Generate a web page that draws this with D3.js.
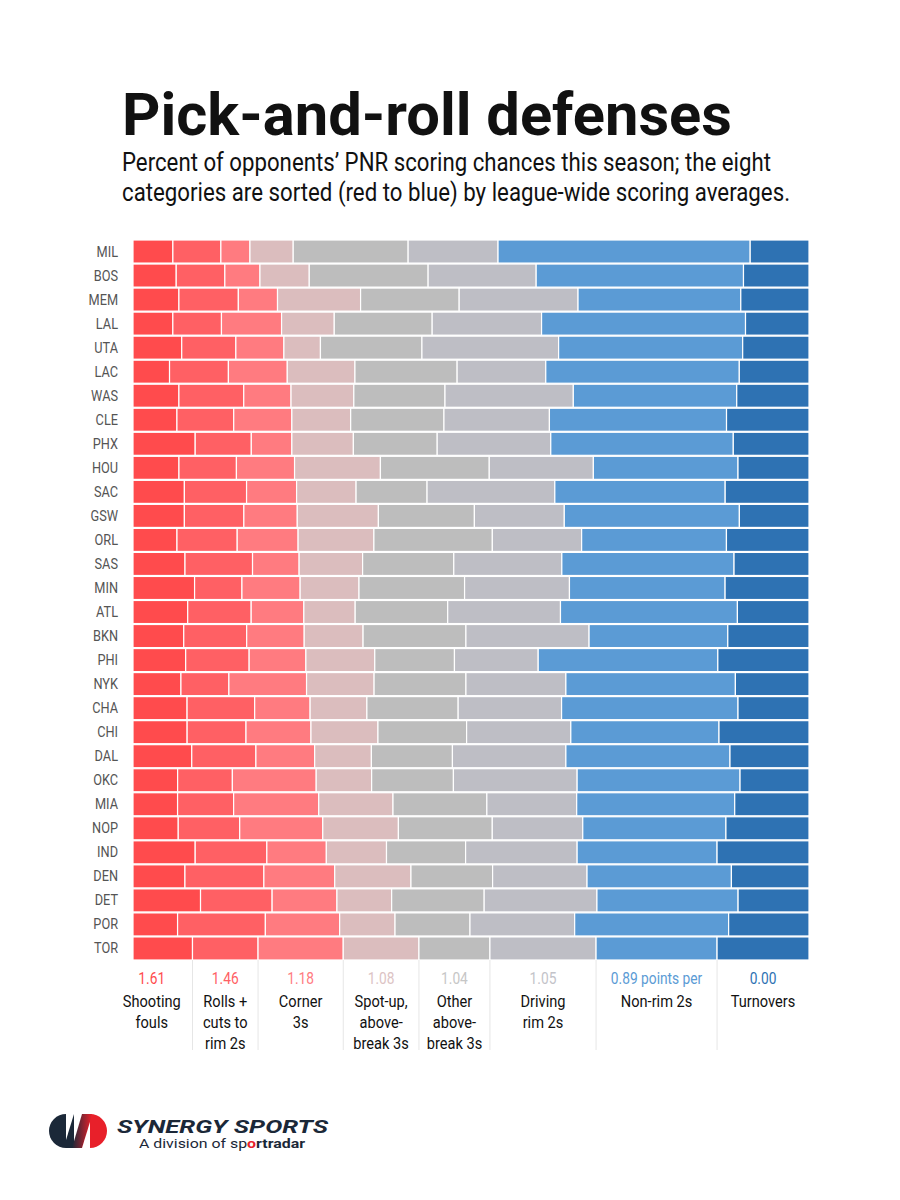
<!DOCTYPE html>
<html><head><meta charset="utf-8">
<script src="https://cdn.jsdelivr.net/npm/d3@7"></script>
<style>html,body{margin:0;padding:0;background:#fff;}svg{display:block;font-family:Roboto,"Noto Sans",sans-serif;}</style>
</head><body>
<svg id="chart" width="900" height="1200"></svg>
<script>
const teams = ["MIL","BOS","MEM","LAL","UTA","LAC","WAS","CLE","PHX","HOU","SAC","GSW","ORL","SAS","MIN","ATL","BKN","PHI","NYK","CHA","CHI","DAL","OKC","MIA","NOP","IND","DEN","DET","POR","TOR"];
const categories = ["shootingFouls","rollsCuts","corner3s","spotUp3s","otherAbove3s","drivingRim2s","nonRim2s","turnovers"];
const categoryLabels = [["Shooting","fouls"],["Rolls +","cuts to","rim 2s"],["Corner","3s"],["Spot-up,","above-","break 3s"],["Other","above-","break 3s"],["Driving","rim 2s"],["Non-rim 2s"],["Turnovers"]];
const avgPoints = ["1.61","1.46","1.18","1.08","1.04","1.05","0.89 points per","0.00"];
const shootingFouls = [5.9,6.4,6.8,5.9,7.2,5.4,6.8,6.5,9.2,6.8,7.6,7.6,6.5,7.7,9.1,8.1,7.5,7.8,7.1,8.0,8.0,8.7,6.6,6.6,6.7,9.2,7.7,10.0,6.6,8.8];
const rollsCuts = [7.1,7.2,8.8,7.2,8.0,8.7,9.6,8.4,8.3,8.5,9.2,8.8,8.9,10.0,7.0,9.4,9.3,9.4,7.1,10.0,8.7,9.5,8.1,8.3,9.1,10.6,11.7,10.6,13.0,9.7];
const corner3s = [4.3,5.2,5.8,8.9,7.1,8.7,7.0,8.6,6.0,8.6,7.4,7.9,9.0,6.9,8.6,7.8,8.5,8.4,11.5,8.2,9.6,8.7,12.4,12.6,12.3,8.8,10.5,9.6,11.0,12.6];
const spotUp3s = [6.4,7.3,12.3,7.8,5.4,10.0,9.3,8.7,9.1,12.7,8.8,12.0,11.2,9.4,8.7,7.6,8.7,10.2,10.0,8.4,9.9,8.4,8.2,11.0,11.2,8.9,11.3,8.1,8.2,11.2];
const otherAbove3s = [17.0,17.6,14.6,14.5,15.0,15.1,13.5,13.8,12.4,16.1,10.5,14.2,17.5,13.5,15.6,13.7,15.2,11.8,13.6,13.5,13.1,12.0,12.1,13.9,13.9,11.7,12.1,13.7,11.1,10.5];
const drivingRim2s = [13.3,16.0,17.6,16.2,20.2,13.1,19.0,15.6,16.8,15.4,18.9,13.3,13.2,16.0,15.5,16.7,18.2,12.4,14.8,15.3,15.4,16.8,18.3,13.3,13.4,16.5,14.0,16.7,15.5,15.7];
const nonRim2s = [37.3,30.7,24.1,30.2,27.2,28.6,24.2,26.2,27.0,21.4,25.2,25.9,21.4,25.5,23.0,26.2,20.5,26.6,25.1,26.1,21.9,24.3,24.1,23.4,21.2,20.7,21.4,20.9,22.8,17.9];
const turnovers = [8.7,9.7,10.1,9.4,9.8,10.3,10.7,12.2,11.2,10.5,12.4,10.3,12.2,11.1,12.4,10.6,12.0,13.5,10.9,10.5,13.3,11.7,10.2,11.0,12.3,13.6,11.5,10.5,11.9,13.6];
const colors = ["#ff4b4d","#ff6064","#ff7b80","#dbbdbe","#bdbdbd","#bebec5","#5b9bd5","#2e72b3"];
const valueColors = ["#ff4b4d","#ff6064","#ff7b80","#dcc3c4","#c6c6c6","#c3c3c9","#5b9bd5","#2e72b3"];

const series = {shootingFouls, rollsCuts, corner3s, spotUp3s, otherAbove3s, drivingRim2s, nonRim2s, turnovers};
const rows = teams.map((t,i)=>{const o={team:t}; categories.forEach(c=>o[c]=series[c][i]); return o;});

const svg = d3.select("#chart");
const margin = {left:133, right:91, top:240};
const W = 900 - margin.left - margin.right;
const x = d3.scaleLinear().domain([0,1]).range([margin.left, margin.left+W]);
const y = d3.scaleBand().domain(teams).range([240, 960]).paddingInner(0.04).paddingOuter(0);
const color = d3.scaleOrdinal().domain(categories).range(colors);

const stack = d3.stack().keys(categories).offset(d3.stackOffsetExpand);
const stacked = stack(rows);

function ctext(g, xx, yy, str, o){
  const t = g.append("text").attr("transform",`translate(${xx},${yy}) scale(${o.sx||0.86},1)`)
    .attr("text-anchor",o.anchor||"middle").attr("font-size",o.size||15)
    .attr("fill",o.fill||"#111").attr("font-weight",o.weight||400).text(str);
  return t;
}

// title
svg.append("text").attr("x",122).attr("y",135).attr("font-size",60).attr("font-weight",700)
  .attr("fill","#111").attr("textLength",610).attr("lengthAdjust","spacingAndGlyphs").text("Pick-and-roll defenses");
svg.append("text").attr("x",122).attr("y",171).attr("font-size",25).attr("fill","#111")
  .attr("textLength",649).attr("lengthAdjust","spacingAndGlyphs").text("Percent of opponents’ PNR scoring chances this season; the eight");
svg.append("text").attr("x",122).attr("y",201).attr("font-size",25).attr("fill","#111")
  .attr("textLength",668).attr("lengthAdjust","spacingAndGlyphs").text("categories are sorted (red to blue) by league-wide scoring averages.");

// bars
const gBars = svg.append("g");
gBars.selectAll("g.layer").data(stacked).join("g").attr("class","layer")
  .attr("fill",d=>color(d.key))
  .selectAll("rect").data(d=>d).join("rect")
  .attr("x",d=>x(d[0])).attr("width",d=>x(d[1])-x(d[0]))
  .attr("y",d=>y(d.data.team)).attr("height",y.bandwidth())
  .attr("stroke","#fff").attr("stroke-width",1.2);

// team labels
const gLab = svg.append("g");
teams.forEach(t=>{
  ctext(gLab, 118, y(t)+y.bandwidth()/2+5, t, {anchor:"end", size:15, fill:"#555", sx:0.85});
});

// legend aligned to last row
const last = teams.length-1;
const bounds = stacked.map(s=>[x(s[last][0]), x(s[last][1])]);
bounds[0][0] = bounds[0][0]-22;
const gLeg = svg.append("g");
bounds.slice(1).forEach(b=>{
  gLeg.append("line").attr("x1",b[0]).attr("x2",b[0]).attr("y1",960).attr("y2",1050)
   .attr("stroke","#e6e6e6").attr("stroke-width",1);
});
categories.forEach((c,i)=>{
  const cx = (bounds[i][0]+bounds[i][1])/2;
  ctext(gLeg, cx, 984, avgPoints[i], {size:16, fill:valueColors[i], sx:0.86});
  categoryLabels[i].forEach((ln,j)=>{
    ctext(gLeg, cx, 1007+j*21, ln, {size:17, fill:"#111", sx:0.86});
  });
});

// logo
const gl = svg.append("g");
const defs = svg.append("defs");
const grad = defs.append("linearGradient").attr("id","lg").attr("x1","0").attr("x2","1").attr("y1","0").attr("y2","0");
grad.append("stop").attr("offset","0%").attr("stop-color","#1b2838");
grad.append("stop").attr("offset","100%").attr("stop-color","#e8202a");
gl.append("path").attr("d","M66,1114 A17,17 0 0,0 66,1148 L74,1148 L74,1114 Z").attr("fill","#1b2838");
gl.append("path").attr("d","M90,1114 A17,17 0 0,1 90,1148 L82,1148 L82,1114 Z").attr("fill","#e8202a");
gl.append("path").attr("d","M72,1148 L82,1114 L92,1114 L82,1148 Z").attr("fill","url(#lg)");
gl.append("path").attr("d","M66,1114 L74,1114 L66,1140 Z").attr("fill","#fff");
gl.append("path").attr("d","M90,1148 L82,1148 L90,1122 Z").attr("fill","#fff");
gl.append("text").attr("x",117).attr("y",1133).attr("font-size",19).attr("font-weight",700)
  .attr("font-style","italic").attr("fill","#1b2838").attr("textLength",211).attr("lengthAdjust","spacingAndGlyphs").text("SYNERGY SPORTS");
const sub = gl.append("text").attr("x",139).attr("y",1148).attr("font-size",13).attr("fill","#1b2838")
  .attr("textLength",166).attr("lengthAdjust","spacingAndGlyphs");
sub.append("tspan").text("A division of sp");
sub.append("tspan").attr("fill","#e8202a").attr("font-weight",700).text("o");
sub.append("tspan").attr("font-weight",700).text("rtradar");
</script>
</body></html>
